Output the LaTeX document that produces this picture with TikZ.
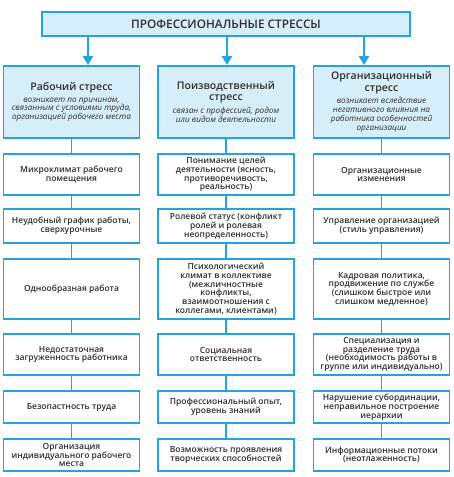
\documentclass[tikz,border=0pt]{standalone}
\usepackage{fontspec}
\setmainfont{Open Sans}[BoldFont={Open Sans Semibold}]
\usetikzlibrary{arrows.meta}
\definecolor{bl}{HTML}{22A4DC}
\definecolor{lb}{HTML}{D6EEF9}
\definecolor{tx}{HTML}{2E2E2E}
\newcommand{\hsubf}{\fontsize{8.2}{8.4}\selectfont\mdseries\itshape}
\newcommand{\htitf}{\fontsize{10.5}{12}\selectfont\bfseries}
\begin{document}
\begin{tikzpicture}[x=1pt,y=-1pt,
  box/.style={draw=bl,line width=1.8pt,fill=white,minimum width=136pt,inner sep=0pt,align=center,text=tx,font=\fontsize{8.5}{8.8}\selectfont\bfseries},
  hbox/.style={box,fill=lb,minimum height=72pt},
  ln/.style={draw=bl,line width=1.7pt},
  arr/.style={draw=bl,line width=2.4pt,-{Triangle[length=9pt,width=10pt]}}]
\useasboundingbox (0,0) rectangle (454,477);
\node[box,fill=lb,minimum width=368pt,minimum height=24pt,font=\fontsize{11.8}{12}\selectfont\bfseries] (top) at (226,24) {ПРОФЕССИОНАЛЬНЫЕ СТРЕССЫ};
% headers
\node[hbox] (h1) at (71.5,102) {\htitf Рабочий стресс\\[3pt]\hsubf возникает по причинам,\\\hsubf связанным с условиями труда,\\\hsubf организацией рабочего места};
\node[hbox] (h2) at (226,102) {\htitf Поизводственный\\[2.5pt]\htitf стресс\\[3pt]\hsubf связан с профессией, родом\\\hsubf или видом деятельности};
\node[hbox] (h3) at (381.5,102) {\htitf Организационный\\[2.5pt]\htitf стресс\\[3pt]\hsubf возникает вследствие\\\hsubf негативного влияния на\\\hsubf работника особенностей\\\hsubf организации};
% arrows
\coordinate (a1) at (88,0);
\coordinate (a2) at (227,0);
\coordinate (a3) at (364,0);
\draw[arr] (top.south -| a1) -- (h1.north -| a1);
\draw[arr] (top.south -| a2) -- (h2.north -| a2);
\draw[arr] (top.south -| a3) -- (h3.north -| a3);
% column 1
\node[box,minimum height=41pt] (l1) at (71.5,174.5) {Микроклимат рабочего\\помещения};
\node[box,minimum height=34pt] (l2) at (71.5,226) {Неудобный график работы,\\сверхурочные};
\node[box,minimum height=60pt] (l3) at (71.5,289) {Однообразная работа};
\node[box,minimum height=41pt] (l4) at (71.5,354.5) {Недостаточная\\загруженность работника};
\node[box,minimum height=32pt] (l5) at (71.5,407) {Безопастность труда};
\node[box,minimum height=32pt] (l6) at (71.5,455) {Организация\\индивидуального рабочего\\места};
% column 2
\node[box,minimum height=41pt] (m1) at (226,174.5) {Понимание целей\\деятельности (ясность,\\противоречивость,\\реальность)};
\node[box,minimum height=34pt] (m2) at (226,226) {Ролевой статус (конфликт\\ролей и ролевая\\неопределенность)};
\node[box,minimum height=60pt] (m3) at (226,289) {Психологический\\климат в коллективе\\(межличностные\\конфликты,\\взаимоотношения с\\коллегами, клиентами)};
\node[box,minimum height=41pt] (m4) at (226,354.5) {Социальная\\ответственность};
\node[box,minimum height=32pt] (m5) at (226,407) {Профессиональный опыт,\\уровень знаний};
\node[box,minimum height=32pt] (m6) at (226,455) {Возможность проявления\\творческих способностей};
% column 3
\node[box,minimum height=41pt] (r1) at (381.5,174.5) {Организационные\\изменения};
\node[box,minimum height=34pt] (r2) at (381.5,226) {Управление организацией\\(стиль управления)};
\node[box,minimum height=60pt] (r3) at (381.5,289) {Кадровая политика,\\продвижение по службе\\(слишком быстрое или\\слишком медленное)};
\node[box,minimum height=41pt] (r4) at (381.5,354.5) {Специализация и\\разделение труда\\(необходимость работы в\\группе или индивидуально)};
\node[box,minimum height=32pt] (r5) at (381.5,407) {Нарушение субординации,\\неправильное построение\\иерархии};
\node[box,minimum height=32pt] (r6) at (381.5,455) {Информационные потоки\\(неотлаженность)};
% connectors
\draw[ln] (h1.south) -- (l1.north);
\draw[ln] (h2.south) -- (m1.north);
\draw[ln] (h3.south) -- (r1.north);
\foreach \c in {l,m,r}{
  \draw[ln] (\c1.south) -- (\c2.north);
  \draw[ln] (\c2.south) -- (\c3.north);
  \draw[ln] (\c3.south) -- (\c4.north);
  \draw[ln] (\c4.south) -- (\c5.north);
  \draw[ln] (\c5.south) -- (\c6.north);
}
\end{tikzpicture}
\end{document}
